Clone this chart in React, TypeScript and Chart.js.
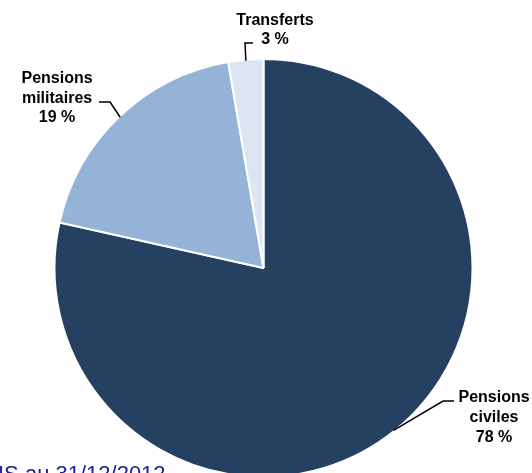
import React, { useEffect, useRef } from "react";
import { Chart, registerables } from "chart.js";

Chart.register(...registerables);

const categories = ["Pensions civiles", "Pensions militaires", "Transferts"];
const labelLines = [["Pensions", "civiles"], ["Pensions", "militaires"], ["Transferts"]];
const values = [78.5, 18.8, 2.7];
const percentLabels = ["78 %", "19 %", "3 %"];
const sliceColors = ["#264061", "#95b3d7", "#dce6f2"];
const footerText = "IS au 31/12/2012";

// leader/label layout, offsets relative to the slice's mid-angle edge point
const labelLayout = [
  { elbow: [49.5, -29.3], end: [60.5, -29.3], textDx: 100.5, textDy: -28.8, gap: 20 },
  { elbow: [-10.1, -15.3], end: [-21.1, -15.3], textDx: -63.1, textDy: -34, gap: 19.5 },
  { elbow: [-0.9, -17.7], end: [7.1, -17.7], textDx: 29.1, textDy: -35.7, gap: 19 },
];

const FONT = "Arial, 'Liberation Sans', sans-serif";

const labelsPlugin = {
  id: "pieLabels",
  afterDatasetsDraw(chart: any) {
    const ctx = chart.ctx;
    const meta = chart.getDatasetMeta(0);
    ctx.save();
    meta.data.forEach((arc: any, i: number) => {
      const p = arc.getProps(["x", "y", "startAngle", "endAngle", "outerRadius"], true);
      const mid = (p.startAngle + p.endAngle) / 2;
      const r = p.outerRadius - 1;
      const ex = p.x + Math.cos(mid) * r;
      const ey = p.y + Math.sin(mid) * r;
      const L = labelLayout[i];
      ctx.strokeStyle = "#000";
      ctx.lineWidth = 1.5;
      ctx.beginPath();
      ctx.moveTo(ex, ey);
      ctx.lineTo(ex + L.elbow[0], ey + L.elbow[1]);
      ctx.lineTo(ex + L.end[0], ey + L.end[1]);
      ctx.stroke();
      const lines = [...labelLines[i], percentLabels[i]];
      ctx.fillStyle = "#000";
      ctx.font = `bold 16px ${FONT}`;
      ctx.textAlign = "center";
      ctx.textBaseline = "alphabetic";
      lines.forEach((t, k) => {
        ctx.fillText(t, ex + L.textDx, ey + L.textDy + k * L.gap);
      });
    });
    // footer source text (cut off at the bottom)
    ctx.fillStyle = "#20209a";
    ctx.font = `22px ${FONT}`;
    ctx.textAlign = "left";
    ctx.fillText(footerText, -2, 481);
    ctx.restore();
  },
};

export default function App() {
  const ref = useRef<HTMLCanvasElement | null>(null);
  useEffect(() => {
    if (!ref.current) return;
    const chart = new Chart(ref.current, {
      type: "pie",
      data: {
        labels: categories,
        datasets: [
          {
            data: values,
            backgroundColor: sliceColors,
            borderColor: "#ffffff",
            borderWidth: 2,
            clip: false as any,
          } as any,
        ],
      },
      options: {
        animation: false,
        responsive: false,
        radius: 209,
        layout: { padding: { left: 0, right: 5, top: 63, bottom: 0 } },
        plugins: {
          legend: { display: false },
          tooltip: { enabled: false },
        },
      } as any,
      plugins: [labelsPlugin],
    });
    return () => chart.destroy();
  }, []);
  return (
    <div style={{ position: "absolute", left: 0, top: 0, width: 532, height: 473, overflow: "hidden", background: "#fff" }}>
      <canvas ref={ref} width={532} height={473} />
    </div>
  );
}
